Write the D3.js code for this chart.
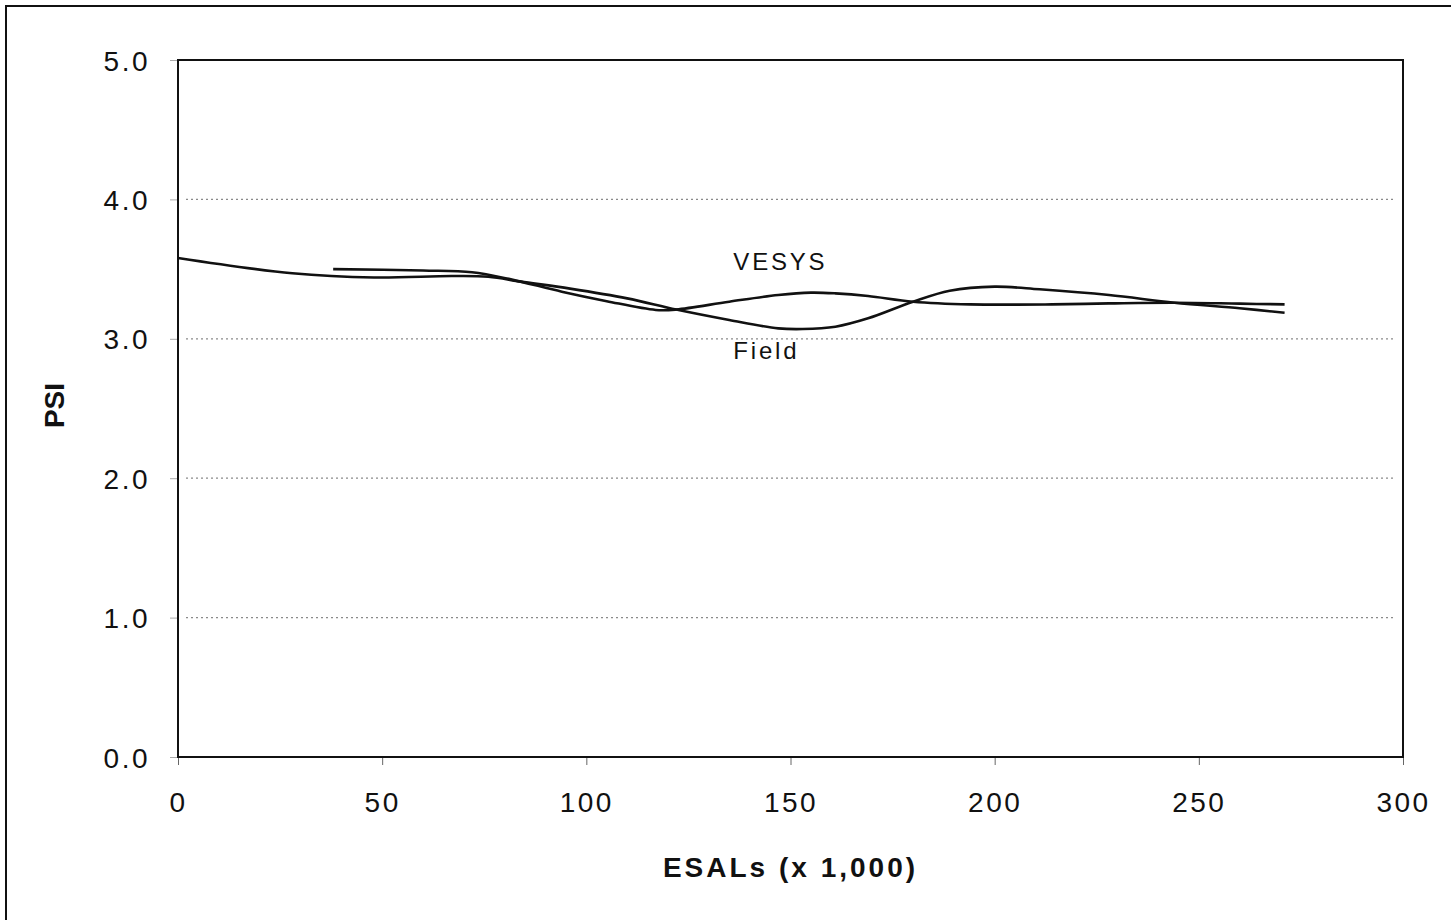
<!DOCTYPE html>
<html>
<head>
<meta charset="utf-8">
<script src="https://cdn.jsdelivr.net/npm/d3@7"></script>
<style>
  html, body { margin: 0; padding: 0; background: #fff; }
  svg { display: block; }
  text { font-family: "Liberation Sans", Arial, sans-serif; fill: #111; }
</style>
</head>
<body>
<svg id="chart" width="1451" height="920"></svg>
<script>
// PSI versus traffic (ESALs in thousands)
const fieldEsal = [0, 28, 48, 67, 76, 84, 96, 110, 122, 135, 147, 153, 161, 169, 180, 189, 200, 211, 228, 244, 260, 271];
const fieldPsi  = [3.58, 3.47, 3.44, 3.45, 3.445, 3.41, 3.36, 3.29, 3.21, 3.135, 3.075, 3.07, 3.087, 3.147, 3.266, 3.345, 3.374, 3.355, 3.314, 3.259, 3.219, 3.187];

const vesysEsal = [38, 60, 72, 81, 94, 105, 117, 122, 135, 147, 155, 161, 169, 180, 194, 214, 228, 244, 260, 271];
const vesysPsi  = [3.50, 3.49, 3.477, 3.43, 3.338, 3.27, 3.207, 3.21, 3.266, 3.314, 3.331, 3.326, 3.307, 3.266, 3.247, 3.247, 3.254, 3.259, 3.252, 3.247];

const xTicks = [0, 50, 100, 150, 200, 250, 300];
const yTicks = [0, 1, 2, 3, 4, 5];
const gridValues = [1, 2, 3, 4];
const xTitle = "ESALs (x 1,000)";
const yTitle = "PSI";
const seriesLabels = [
  { name: "VESYS", esal: 136, psi: 3.49 },
  { name: "Field", esal: 136, psi: 2.855 }
];

const svg = d3.select("#chart");

// outer frame
svg.append("path")
  .attr("d", "M6,930 L6,6 L1460,6")
  .attr("fill", "none").attr("stroke", "#111").attr("stroke-width", 2);

const plotL = 178, plotR = 1403, plotT = 60, plotB = 757;
const x = d3.scaleLinear().domain([0, 300]).range([plotL, plotR]);
const y = d3.scaleLinear().domain([0, 5]).range([plotB, plotT]);

// dotted gridlines
svg.append("g").selectAll("line").data(gridValues).join("line")
  .attr("x1", plotL + 8).attr("x2", plotR - 8)
  .attr("y1", d => y(d)).attr("y2", d => y(d))
  .attr("stroke", "#8a8a8a").attr("stroke-width", 1.2)
  .attr("stroke-dasharray", "2,3");

// x axis ticks and labels
const xAxis = d3.axisBottom(x).tickValues(xTicks).tickSize(8).tickSizeOuter(0).tickPadding(47)
  .tickFormat(d3.format("d"));
const gx = svg.append("g").attr("transform", `translate(0,${plotB})`).call(xAxis);
gx.select(".domain").remove();
gx.selectAll(".tick line").attr("stroke", "#666").attr("stroke-width", 1);
gx.selectAll(".tick text").attr("font-size", 28).attr("letter-spacing", 2.5)
  .attr("fill", "#111").attr("font-family", "Liberation Sans, Arial, sans-serif")
  .attr("dy", "0");

// y axis ticks and labels
const yAxis = d3.axisLeft(y).tickValues(yTicks).tickSize(8).tickSizeOuter(0).tickPadding(20)
  .tickFormat(d3.format(".1f"));
const gy = svg.append("g").attr("transform", `translate(${plotL},0)`).call(yAxis);
gy.select(".domain").remove();
gy.selectAll(".tick line").attr("stroke", "#aaa").attr("stroke-width", 1);
gy.selectAll(".tick text").attr("font-size", 28).attr("letter-spacing", 2.5)
  .attr("fill", "#111").attr("font-family", "Liberation Sans, Arial, sans-serif")
  .attr("dy", "0.36em");

// plot frame
svg.append("rect")
  .attr("x", plotL).attr("y", plotT)
  .attr("width", plotR - plotL).attr("height", plotB - plotT)
  .attr("fill", "none").attr("stroke", "#111").attr("stroke-width", 2);

// curves
const line = d3.line().x(d => x(d[0])).y(d => y(d[1])).curve(d3.curveCatmullRom.alpha(0.5));
const field = fieldEsal.map((e, i) => [e, fieldPsi[i]]);
const vesys = vesysEsal.map((e, i) => [e, vesysPsi[i]]);
[field, vesys].forEach(s => {
  svg.append("path").datum(s).attr("d", line)
    .attr("fill", "none").attr("stroke", "#111").attr("stroke-width", 2.6)
    .attr("stroke-linejoin", "round");
});

// series labels
svg.append("g").selectAll("text").data(seriesLabels).join("text")
  .attr("x", d => x(d.esal)).attr("y", d => y(d.psi))
  .attr("font-size", 24).attr("letter-spacing", 2.8)
  .text(d => d.name);

// axis titles
svg.append("text")
  .attr("x", (plotL + plotR) / 2).attr("y", 877)
  .attr("text-anchor", "middle").attr("font-size", 28).attr("font-weight", "bold")
  .attr("letter-spacing", 3)
  .text(xTitle);

svg.append("text")
  .attr("transform", `translate(64,${(plotT + plotB) / 2 - 3}) rotate(-90)`)
  .attr("text-anchor", "middle").attr("font-size", 28).attr("font-weight", "bold")
  .text(yTitle);
</script>
</body>
</html>
